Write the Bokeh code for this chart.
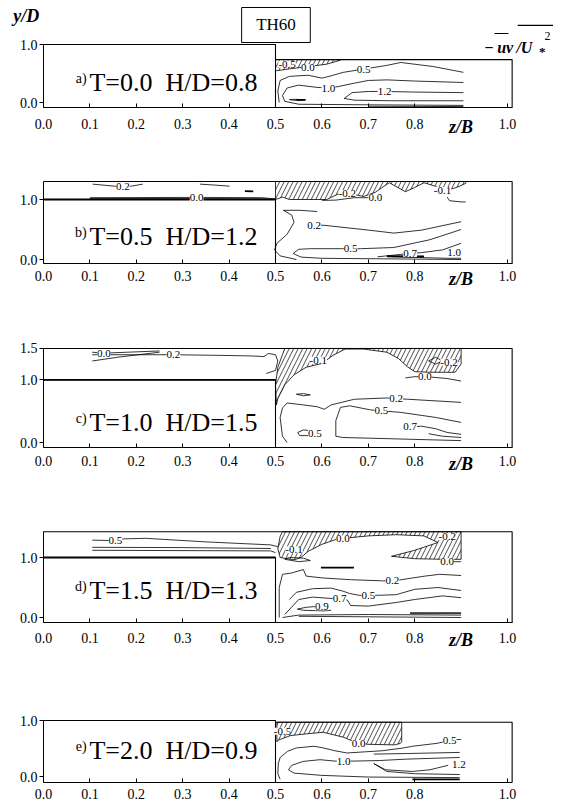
from bokeh.plotting import figure
from bokeh.models import (ColumnDataSource, Label, LabelSet, FixedTicker,
                          PrintfTickFormatter, Range1d)
from bokeh.layouts import column
from bokeh.embed import file_html
from bokeh.resources import INLINE

SERIF = "Liberation Serif"
NB = "\u00a0"

# ---------------- shared axis data ----------------
X_TICKS = [0.0, 0.1, 0.2, 0.3, 0.4, 0.5, 0.6, 0.7, 0.8, 1.0]

# ---------------- panel a) T=0.0 H/D=0.8 ----------------
A_TITLE = ("a)", "T=0.0" + NB * 2 + "H/D=0.8")
A_YTICKS = [0.0, 1.0]
A_BOX_Z = [[0.0, 0.5, 0.5], [0.5, 1.01, 1.01]]
A_BOX_Y = [[1.0, 1.0, -0.08], [0.74, 0.74, -0.08]]
A_HATCH_Z = [[0.5, 0.64, 0.64, 0.61, 0.57, 0.53, 0.505, 0.5]]
A_HATCH_Y = [[0.74, 0.74, 0.73, 0.66, 0.62, 0.58, 0.55, 0.55]]
A_LINES_Z = [
    [0.505, 0.52, 0.54],
    [0.508, 0.505, 0.51, 0.53, 0.57, 0.60, 0.62, 0.646, 0.69, 0.74, 0.77, 0.84, 0.905],
    [0.905, 0.80, 0.74, 0.70, 0.668, 0.632, 0.614, 0.59, 0.55, 0.525, 0.515, 0.52, 0.55, 0.70, 0.905],
    [0.905, 0.80, 0.735, 0.70, 0.665, 0.648, 0.67, 0.75, 0.905],
    [0.53, 0.545, 0.56, 0.545, 0.53],
    [0.70, 0.905],
]
A_LINES_Y = [
    [0.60, 0.66, 0.74],
    [0.0, 0.2, 0.38, 0.45, 0.47, 0.42, 0.46, 0.52, 0.575, 0.64, 0.69, 0.62, 0.52],
    [0.345, 0.37, 0.39, 0.38, 0.33, 0.27, 0.25, 0.26, 0.30, 0.25, 0.12, 0.02, -0.03, -0.04, -0.05],
    [0.17, 0.18, 0.19, 0.19, 0.17, 0.07, 0.04, 0.03, 0.03],
    [0.05, 0.055, 0.045, 0.035, 0.05],
    [-0.065, -0.07],
]
A_THICK_Z = [[0.545, 0.565]]
A_THICK_Y = [[0.045, 0.045]]
A_LAB_TEXT = ["-0.5", "0.0", "0.5", "1.0", "1.2"]
A_LAB_Z = [0.525, 0.57, 0.69, 0.614, 0.735]
A_LAB_Y = [0.66, 0.60, 0.575, 0.25, 0.19]

# ---------------- panel b) T=0.5 H/D=1.2 ----------------
B_TITLE = ("b)", "T=0.5" + NB * 2 + "H/D=1.2")
B_YTICKS = [0.0, 1.0]
B_BOX_Z = [[0.0, 1.01, 1.01], [0.0, 0.5, 0.5]]
B_BOX_Y = [[1.3, 1.3, -0.07], [1.0, 1.0, -0.07]]
B_HATCH_Z = [[0.5, 0.91, 0.91, 0.89, 0.86, 0.845, 0.82, 0.80, 0.78, 0.745, 0.715,
              0.69, 0.66, 0.635, 0.61, 0.53, 0.515, 0.5]]
B_HATCH_Y = [[1.3, 1.3, 1.27, 1.2, 1.13, 1.22, 1.28, 1.2, 1.13, 1.28, 1.12,
              1.05, 1.10, 1.09, 1.0, 1.0, 1.04, 1.0]]
B_LINES_Z = [
    [0.60, 0.63, 0.67, 0.70],
    [0.87, 0.875, 0.90, 0.91],
    [0.59, 0.553, 0.517, 0.535, 0.54, 0.525, 0.503, 0.498, 0.51, 0.545],
    [0.583, 0.605, 0.70, 0.755, 0.815, 0.90],
    [0.90, 0.60, 0.555, 0.538, 0.55, 0.575, 0.64, 0.662, 0.683, 0.755, 0.833, 0.90],
    [0.72, 0.77, 0.79, 0.815, 0.86, 0.90],
    [0.74, 0.80, 0.87, 0.90],
    [0.106, 0.153, 0.171, 0.189, 0.214],
    [0.337, 0.37, 0.401],
    [0.10, 0.33, 0.47, 0.5],
    [0.10, 0.33, 0.48],
]
B_LINES_Y = [
    [0.985, 0.99, 1.03, 1.03],
    [1.04, 0.98, 0.96, 0.96],
    [0.80, 0.82, 0.82, 0.74, 0.62, 0.42, 0.27, 0.16, 0.06, 0.0],
    [0.575, 0.57, 0.49, 0.44, 0.49, 0.63],
    [0.0, 0.02, 0.04, 0.10, 0.17, 0.18, 0.18, 0.18, 0.18, 0.20, 0.33, 0.50],
    [0.045, 0.085, 0.10, 0.115, 0.16, 0.27],
    [0.045, 0.035, 0.02, 0.02],
    [1.256, 1.222, 1.222, 1.222, 1.256],
    [1.256, 1.24, 1.222],
    [1.03, 1.035, 1.03, 1.01],
    [1.015, 1.015, 1.01],
]
B_THICK_Z = [[0.0, 0.5], [0.434, 0.452], [0.74, 0.82]]
B_THICK_Y = [[1.0, 1.0], [1.14, 1.135], [0.055, 0.05]]
B_LAB_TEXT = ["0.2", "0.0", "-0.2", "0.0", "-0.1", "0.2", "0.5", "0.7", "1.0"]
B_LAB_Z = [0.171, 0.33, 0.655, 0.715, 0.86, 0.583, 0.662, 0.79, 0.885]
B_LAB_Y = [1.222, 1.03, 1.10, 1.03, 1.15, 0.575, 0.18, 0.10, 0.11]

# ---------------- panel c) T=1.0 H/D=1.5 ----------------
C_TITLE = ("c)", "T=1.0" + NB * 2 + "H/D=1.5")
C_YTICKS = [0.0, 1.0, 1.5]
C_BOX_Z = [[0.0, 1.01, 1.01], [0.0, 0.5, 0.5]]
C_BOX_Y = [[1.5, 1.5, -0.08], [1.0, 1.0, -0.08]]
C_HATCH_Z = [[0.52, 0.90, 0.90, 0.887, 0.835, 0.80, 0.784, 0.765, 0.74, 0.69, 0.65,
              0.624, 0.60, 0.566, 0.54, 0.52, 0.505, 0.502, 0.50, 0.505, 0.515]]
C_HATCH_Y = [[1.5, 1.5, 1.25, 1.12, 1.12, 1.13, 1.21, 1.34, 1.44, 1.49, 1.49,
              1.39, 1.26, 1.20, 1.08, 0.92, 0.70, 0.60, 0.92, 1.2, 1.4]]
C_LINES_Z = [
    [0.78, 0.80, 0.84, 0.87, 0.90],
    [0.83, 0.845, 0.86, 0.845, 0.83],
    [0.545, 0.56, 0.575, 0.56, 0.545],
    [0.525, 0.515, 0.51, 0.515, 0.525, 0.56, 0.59, 0.605, 0.62, 0.67, 0.74, 0.76, 0.785, 0.90],
    [0.90, 0.845, 0.77, 0.728, 0.705, 0.66, 0.64, 0.63, 0.63, 0.645, 0.90],
    [0.585, 0.575, 0.56, 0.548, 0.552, 0.57, 0.585],
    [0.775, 0.79, 0.815, 0.845, 0.87, 0.90],
    [0.83, 0.86, 0.90],
    [0.105, 0.13, 0.25],
    [0.105, 0.16, 0.25],
    [0.105, 0.20, 0.28, 0.38, 0.45, 0.475, 0.485, 0.50, 0.505, 0.50, 0.48],
]
C_LINES_Y = [
    [1.03, 1.05, 1.04, 1.02, 0.98],
    [1.30, 1.36, 1.30, 1.25, 1.30],
    [0.77, 0.78, 0.76, 0.745, 0.77],
    [0.0, 0.10, 0.40, 0.55, 0.63, 0.60, 0.57, 0.53, 0.60, 0.69, 0.71, 0.70, 0.69, 0.64],
    [0.32, 0.40, 0.48, 0.505, 0.52, 0.585, 0.56, 0.35, 0.10, 0.08, 0.03],
    [0.15, 0.19, 0.20, 0.16, 0.11, 0.11, 0.13],
    [0.22, 0.25, 0.26, 0.22, 0.16, 0.13],
    [0.14, 0.10, 0.08],
    [1.44, 1.425, 1.46],
    [1.30, 1.36, 1.44],
    [1.40, 1.40, 1.40, 1.39, 1.38, 1.37, 1.42, 1.40, 1.30, 1.15, 1.10],
]
C_THICK_Z = [[0.0, 0.5]]
C_THICK_Y = [[1.0, 1.0]]
C_LAB_TEXT = ["0.0", "0.2", "-0.1", "-0.2", "0.0", "0.2", "0.5", "0.5", "0.7"]
C_LAB_Z = [0.13, 0.28, 0.592, 0.874, 0.822, 0.76, 0.728, 0.585, 0.79]
C_LAB_Y = [1.425, 1.40, 1.31, 1.28, 1.05, 0.70, 0.505, 0.15, 0.25]

# ---------------- panel d) T=1.5 H/D=1.3 ----------------
D_TITLE = ("d)", "T=1.5" + NB * 2 + "H/D=1.3")
D_YTICKS = [0.0, 1.0]
D_BOX_Z = [[0.0, 1.01, 1.01], [0.0, 0.5, 0.5]]
D_BOX_Y = [[1.43, 1.43, -0.085], [1.0, 1.0, -0.085]]
D_HATCH_Z = [[0.515, 0.90, 0.90, 0.86, 0.80, 0.75, 0.80, 0.85, 0.82, 0.76, 0.70, 0.66,
              0.63, 0.60, 0.57, 0.555, 0.54, 0.525, 0.51, 0.505, 0.51]]
D_HATCH_Y = [[1.43, 1.43, 0.97, 0.97, 0.98, 1.02, 1.12, 1.25, 1.36, 1.38, 1.36, 1.33,
              1.30, 1.22, 1.10, 1.00, 0.96, 0.98, 1.0, 1.15, 1.35]]
D_LINES_Z = [
    [0.52, 0.55, 0.575, 0.56, 0.53, 0.52],
    [0.508, 0.508, 0.515, 0.534, 0.56, 0.566, 0.60, 0.662, 0.733, 0.752, 0.771, 0.822, 0.854, 0.90],
    [0.53, 0.545, 0.58, 0.62, 0.645, 0.66, 0.68, 0.70, 0.72, 0.76, 0.80, 0.85, 0.90],
    [0.52, 0.55, 0.58, 0.615, 0.638, 0.655, 0.662, 0.70, 0.76, 0.80, 0.86, 0.90],
    [0.60, 0.582, 0.566, 0.547, 0.56, 0.604, 0.62],
    [0.515, 0.55, 0.70, 0.90],
    [0.55, 0.90],
    [0.79, 0.90],
    [0.79, 0.90],
    [0.105, 0.155, 0.172, 0.22, 0.35, 0.49, 0.505],
    [0.105, 0.30, 0.49],
    [0.105, 0.49, 0.50],
    [0.87, 0.90],
]
D_LINES_Y = [
    [0.97, 0.93, 0.95, 0.99, 1.0, 0.97],
    [0.0, 0.50, 0.72, 0.74, 0.80, 0.69, 0.66, 0.63, 0.61, 0.61, 0.63, 0.69, 0.72, 0.70],
    [0.30, 0.42, 0.48, 0.49, 0.44, 0.40, 0.37, 0.37, 0.37, 0.38, 0.47, 0.50, 0.45],
    [0.05, 0.30, 0.34, 0.32, 0.31, 0.29, 0.20, 0.19, 0.25, 0.30, 0.36, 0.33],
    [0.18, 0.18, 0.17, 0.14, 0.12, 0.11, 0.12],
    [0.0, 0.04, 0.05, 0.04],
    [0.02, 0.0],
    [0.065, 0.065],
    [0.08, 0.08],
    [1.29, 1.28, 1.31, 1.32, 1.26, 1.21, 1.18],
    [1.17, 1.165, 1.15],
    [1.12, 1.11, 1.08],
    [0.93, 0.93],
]
D_THICK_Z = [[0.0, 0.5], [0.598, 0.669]]
D_THICK_Y = [[1.0, 1.0], [0.83, 0.83]]
D_LAB_TEXT = ["0.5", "-0.1", "0.0", "-0.2", "0.0", "0.2", "0.5", "0.7", "0.9"]
D_LAB_Z = [0.155, 0.54, 0.645, 0.87, 0.87, 0.752, 0.70, 0.638, 0.60]
D_LAB_Y = [1.28, 1.13, 1.31, 1.35, 0.93, 0.61, 0.37, 0.31, 0.18]

# ---------------- panel e) T=2.0 H/D=0.9 ----------------
E_TITLE = ("e)", "T=2.0" + NB * 2 + "H/D=0.9")
E_YTICKS = [0.0, 1.0]
E_BOX_Z = [[0.0, 0.5, 0.5], [0.5, 1.01, 1.01]]
E_BOX_Y = [[1.0, 1.0, -0.1], [0.97, 0.97, -0.1]]
E_HATCH_Z = [[0.503, 0.772, 0.772, 0.769, 0.756, 0.699, 0.679, 0.667, 0.647, 0.603,
              0.564, 0.532, 0.506, 0.503]]
E_HATCH_Y = [[0.97, 0.97, 0.62, 0.59, 0.565, 0.575, 0.59, 0.63, 0.70, 0.79,
              0.76, 0.73, 0.65, 0.62]]
E_LINES_Z = [
    [0.506, 0.51, 0.526, 0.545, 0.583, 0.603, 0.628, 0.654, 0.692, 0.73, 0.776, 0.795, 0.846, 0.865],
    [0.712, 0.782, 0.897],
    [0.897, 0.782, 0.724, 0.667, 0.628, 0.596, 0.56, 0.535, 0.528, 0.54, 0.60, 0.70, 0.897],
    [0.506, 0.505, 0.51],
    [0.872, 0.833, 0.795, 0.737, 0.712, 0.74, 0.80, 0.897],
    [0.89, 0.90],
]
E_LINES_Y = [
    [0.23, 0.34, 0.45, 0.51, 0.54, 0.51, 0.46, 0.42, 0.44, 0.46, 0.51, 0.54, 0.59, 0.62],
    [0.40, 0.41, 0.43],
    [0.34, 0.31, 0.285, 0.275, 0.275, 0.30, 0.27, 0.20, 0.12, 0.06, 0.02, -0.01, -0.02],
    [0.23, 0.05, -0.05],
    [0.20, 0.12, 0.09, 0.12, 0.23, 0.09, 0.05, 0.035],
    [0.66, 0.66],
]
E_THICK_Z = [[0.795, 0.897]]
E_THICK_Y = [[-0.05, -0.05]]
E_LAB_TEXT = ["-0.5", "0.0", "0.5", "1.0", "1.2"]
E_LAB_Z = [0.515, 0.679, 0.875, 0.647, 0.895]
E_LAB_Y = [0.81, 0.59, 0.65, 0.275, 0.22]

# ---------------- layout constants (pixels) ----------------
FIG_W = 580
ORIGIN_X = 43          # pixel column of z/B = 0
PX_PER_Z = 464         # pixels per unit of z/B
X_RANGE = (-ORIGIN_X / PX_PER_Z, (FIG_W - ORIGIN_X) / PX_PER_Z)


def make_panel(page_top, page_bot, y0_px, px_per_y, ybot, ytop_axis, standoff,
               yticks, title, title_y, box_z, box_y, hatch_z, hatch_y,
               lines_z, lines_y, thick_z, thick_y, lab_text, lab_z, lab_y, zb_y):
    height = page_bot - page_top
    yr = ((y0_px - page_bot) / px_per_y, (y0_px - page_top) / px_per_y)
    p = figure(width=FIG_W, height=height, x_range=Range1d(*X_RANGE),
               y_range=Range1d(*yr), output_backend="svg", toolbar_location=None,
               title=None, min_border=0)
    p.xgrid.visible = False
    p.ygrid.visible = False
    p.outline_line_color = None
    p.background_fill_color = "white"
    p.border_fill_color = "white"

    for ax in (p.xaxis[0], p.yaxis[0]):
        ax.axis_line_color = "black"
        ax.axis_line_width = 1
        ax.major_tick_line_color = "black"
        ax.minor_tick_line_color = None
        ax.major_label_text_font = SERIF
        ax.major_label_text_font_size = "14px"
        ax.major_label_text_color = "black"
        ax.formatter = PrintfTickFormatter(format="%.1f")
    p.xaxis.ticker = FixedTicker(ticks=X_TICKS)
    p.xaxis.fixed_location = ybot
    p.xaxis.bounds = (0, 1.01)
    p.xaxis.major_tick_in = 4
    p.xaxis.major_tick_out = 0
    p.xaxis.major_label_standoff = standoff
    p.yaxis.ticker = FixedTicker(ticks=yticks)
    p.yaxis.fixed_location = 0
    p.yaxis.bounds = (ybot, ytop_axis)
    p.yaxis.major_tick_in = 0
    p.yaxis.major_tick_out = 4
    p.yaxis.major_label_standoff = 2

    # hatched (negative stress) regions
    p.patches(xs=hatch_z, ys=hatch_y, fill_color=None, hatch_pattern="/",
              hatch_color="black", hatch_scale=9, hatch_weight=0.7,
              line_color="black", line_width=0.8)
    # boxes (bank / water surface)
    p.multi_line(xs=box_z, ys=box_y, line_color="black", line_width=1.1)
    # contour lines
    p.multi_line(xs=lines_z, ys=lines_y, line_color="black", line_width=0.8)
    p.multi_line(xs=thick_z, ys=thick_y, line_color="black", line_width=1.8)

    src = ColumnDataSource(dict(z=lab_z, y=lab_y, t=lab_text))
    p.add_layout(LabelSet(x="z", y="y", text="t", source=src, text_align="center",
                          text_baseline="middle", text_font=SERIF,
                          text_font_size="11px", text_color="black",
                          background_fill_color="white"))

    p.add_layout(Label(x=0.093, y=title_y + 0.07, text=title[0], text_font=SERIF,
                       text_font_size="14px", text_align="right",
                       text_baseline="middle", text_color="black"))
    p.add_layout(Label(x=0.099, y=title_y, text=title[1], text_font=SERIF,
                       text_font_size="26px", text_align="left",
                       text_baseline="middle", text_color="black"))
    if zb_y is not None:
        p.add_layout(Label(x=0.9, y=zb_y, text="z/B",
                           text_font=SERIF, text_font_size="18px",
                           text_font_style="bold italic", text_align="center",
                           text_baseline="middle", text_color="black"))
    return p


pa = make_panel(0, 140, 102, 58, -0.08, 1.0, 12, A_YTICKS, A_TITLE, 0.345,
                A_BOX_Z, A_BOX_Y, A_HATCH_Z, A_HATCH_Y, A_LINES_Z, A_LINES_Y,
                A_THICK_Z, A_THICK_Y, A_LAB_TEXT, A_LAB_Z, A_LAB_Y, -0.43)
pb = make_panel(140, 290, 259, 60, -0.07, 1.3, 7, B_YTICKS, B_TITLE, 0.383,
                B_BOX_Z, B_BOX_Y, B_HATCH_Z, B_HATCH_Y, B_LINES_Z, B_LINES_Y,
                B_THICK_Z, B_THICK_Y, B_LAB_TEXT, B_LAB_Z, B_LAB_Y, -0.317)
pc = make_panel(290, 475, 442, 62.7, -0.08, 1.5, 8, C_YTICKS, C_TITLE, 0.319,
                C_BOX_Z, C_BOX_Y, C_HATCH_Z, C_HATCH_Y, C_LINES_Z, C_LINES_Y,
                C_THICK_Z, C_THICK_Y, C_LAB_TEXT, C_LAB_Z, C_LAB_Y, -0.335)
pd = make_panel(475, 660, 617, 60, -0.085, 1.43, 10, D_YTICKS, D_TITLE, 0.45,
                D_BOX_Z, D_BOX_Y, D_HATCH_Z, D_HATCH_Y, D_LINES_Z, D_LINES_Y,
                D_THICK_Z, D_THICK_Y, D_LAB_TEXT, D_LAB_Z, D_LAB_Y, -0.383)
pe = make_panel(660, 804, 776, 56, -0.1, 1.0, 7, E_YTICKS, E_TITLE, 0.464,
                E_BOX_Z, E_BOX_Y, E_HATCH_Z, E_HATCH_Y, E_LINES_Z, E_LINES_Y,
                E_THICK_Z, E_THICK_Y, E_LAB_TEXT, E_LAB_Z, E_LAB_Y, None)

# ---------------- header annotations on panel a ----------------
pa.add_layout(Label(x=-0.037, y=1.50, text="y/D", text_font=SERIF, text_font_size="18px",
                    text_font_style="bold italic", text_align="center",
                    text_baseline="middle", text_color="black"))
pa.quad(left=[0.427], right=[0.575], bottom=[1.034], top=[1.638],
        fill_color="white", line_color="black", line_width=1)
pa.add_layout(Label(x=0.501, y=1.345, text="TH60", text_font=SERIF, text_font_size="17px",
                    text_align="center", text_baseline="middle", text_color="black"))
pa.add_layout(Label(x=0.950, y=0.95, text="\u2212\u2009uv\u2009/U", text_font=SERIF,
                    text_font_size="16px", text_font_style="bold italic",
                    text_align="left", text_baseline="alphabetic", text_color="black"))
pa.add_layout(Label(x=1.068, y=0.88, text="*", text_font=SERIF, text_font_size="13px",
                    text_font_style="bold", text_align="left",
                    text_baseline="alphabetic", text_color="black"))
pa.add_layout(Label(x=1.080, y=1.14, text="2", text_font=SERIF, text_font_size="12px",
                    text_align="left", text_baseline="alphabetic", text_color="black"))
pa.segment(x0=[0.972, 1.022], y0=[1.19, 1.33], x1=[1.002, 1.098], y1=[1.19, 1.33],
           line_color="black", line_width=1.2)

layout = column(pa, pb, pc, pd, pe)
open("out.html", "w").write(file_html(layout, INLINE))
